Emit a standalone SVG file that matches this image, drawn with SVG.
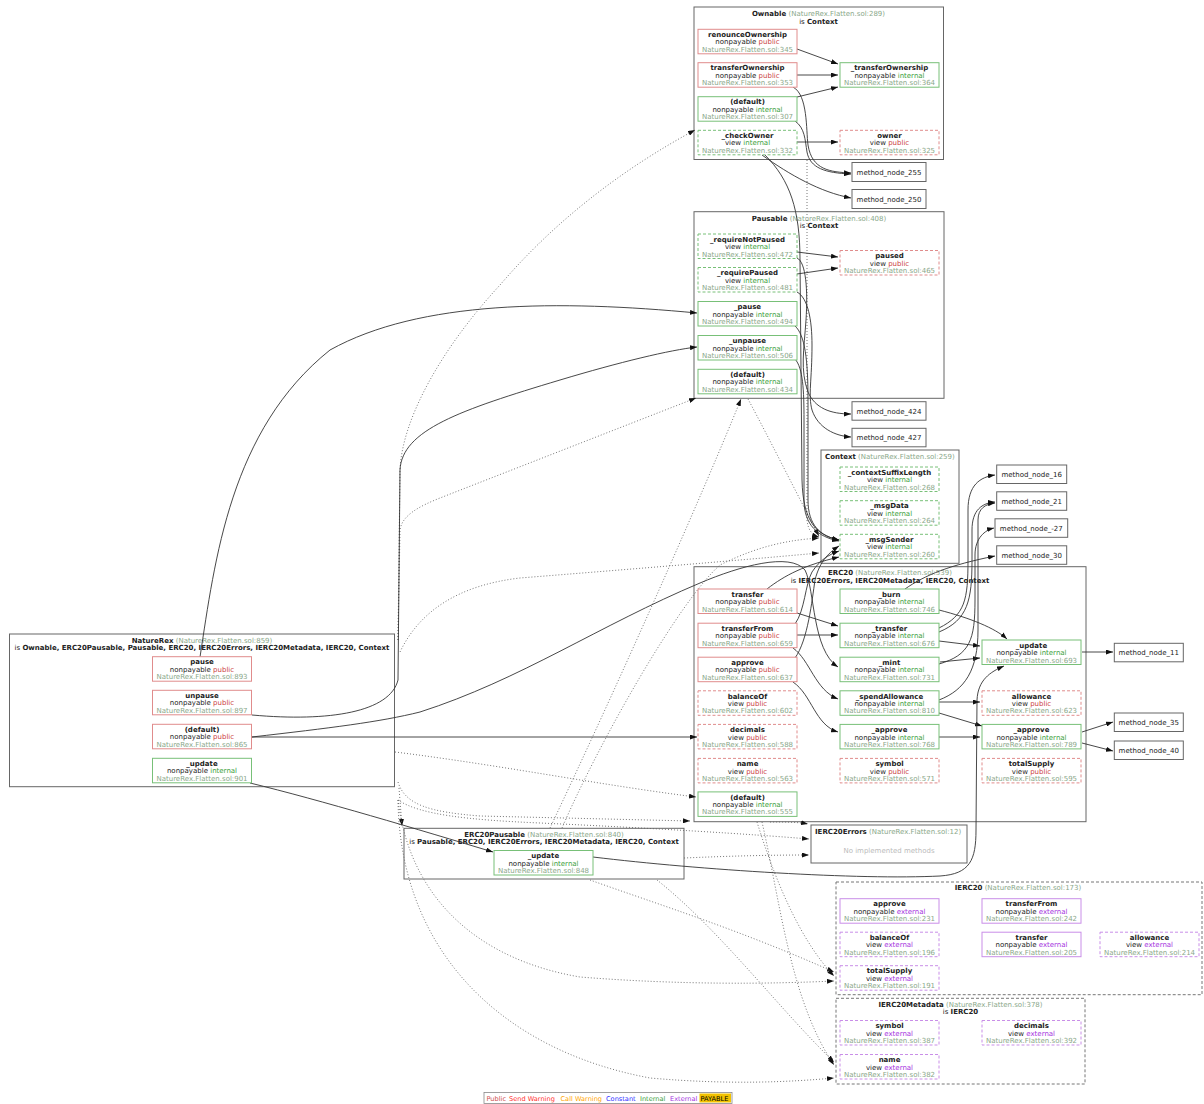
<svg xmlns="http://www.w3.org/2000/svg" width="1204" height="1104" viewBox="0 0 1204 1104">
<defs>
<marker id="ah" markerUnits="userSpaceOnUse" markerWidth="7" markerHeight="5" refX="7" refY="2.5" orient="auto"><path d="M0,0 L7,2.5 L0,5 z" fill="#111"/></marker>
<style>
text{font-family:"DejaVu Sans","Liberation Sans",sans-serif;font-size:7px;fill:#222;text-anchor:middle}
.b{font-weight:bold}
.src{fill:#8aa88a}
.pt{fill:#cc4444}
.it{fill:#3aa03a}
.et{fill:#a533e0}
.cl{fill:#fff;stroke:#666;stroke-width:1}
.cld{fill:#fff;stroke:#777;stroke-width:1;stroke-dasharray:3,2}
.pubS{fill:#fff;stroke:#e08c8c;stroke-width:1}
.pubD{fill:#fff;stroke:#e08c8c;stroke-width:1;stroke-dasharray:3,2}
.intS{fill:#fff;stroke:#78c078;stroke-width:1}
.intD{fill:#fff;stroke:#78c078;stroke-width:1;stroke-dasharray:3,2}
.extS{fill:#fff;stroke:#c98ee8;stroke-width:1}
.extD{fill:#fff;stroke:#c98ee8;stroke-width:1;stroke-dasharray:3,2}
.mn{fill:#fff;stroke:#666;stroke-width:1}
.e{fill:none;stroke:#333;stroke-width:0.9;marker-end:url(#ah)}
.d{fill:none;stroke:#666;stroke-width:0.9;stroke-dasharray:1,2;marker-end:url(#ah)}
.l{text-anchor:start}
</style>
</defs>
<rect width="1204" height="1104" fill="#fff"/>

<!-- clusters -->
<g id="cluster_Ownable"><rect class="cl" x="694" y="7" width="249.5" height="152.5"/><text x="818.5" y="16"><tspan class="b">Ownable</tspan><tspan class="src"> (NatureRex.Flatten.sol:289)</tspan></text><text x="818.5" y="23.5">is <tspan class="b">Context</tspan></text></g>
<g id="cluster_Pausable"><rect class="cl" x="694" y="211.7" width="250" height="186.6"/><text x="819" y="220.6"><tspan class="b">Pausable</tspan><tspan class="src"> (NatureRex.Flatten.sol:408)</tspan></text><text x="819" y="228">is <tspan class="b">Context</tspan></text></g>
<g id="cluster_Context"><rect class="cl" x="821" y="450" width="138" height="113.3"/><text class="l" x="825" y="458.6"><tspan class="b">Context</tspan><tspan class="src"> (NatureRex.Flatten.sol:259)</tspan></text></g>
<g id="cluster_ERC20"><rect class="cl" x="694" y="566.7" width="392" height="255"/><text x="890" y="575"><tspan class="b">ERC20</tspan><tspan class="src"> (NatureRex.Flatten.sol:539)</tspan></text><text x="890" y="582.5">is <tspan class="b">IERC20Errors, IERC20Metadata, IERC20, Context</tspan></text></g>
<g id="cluster_NatureRex"><rect class="cl" x="9.5" y="634" width="385" height="152.7"/><text x="202" y="642.6"><tspan class="b">NatureRex</tspan><tspan class="src"> (NatureRex.Flatten.sol:859)</tspan></text><text x="202" y="650">is <tspan class="b">Ownable, ERC20Pausable, Pausable, ERC20, IERC20Errors, IERC20Metadata, IERC20, Context</tspan></text></g>
<g id="cluster_ERC20Pausable"><rect class="cl" x="404" y="828.3" width="280" height="50.7"/><text x="544" y="836.6"><tspan class="b">ERC20Pausable</tspan><tspan class="src"> (NatureRex.Flatten.sol:840)</tspan></text><text x="544" y="844">is <tspan class="b">Pausable, ERC20, IERC20Errors, IERC20Metadata, IERC20, Context</tspan></text></g>
<g id="cluster_IERC20Errors"><rect class="cl" x="811" y="825" width="156" height="38"/><text class="l" x="815" y="833.5"><tspan class="b">IERC20Errors</tspan><tspan class="src"> (NatureRex.Flatten.sol:12)</tspan></text><text x="889" y="852.5" style="fill:#bbb">No implemented methods</text></g>
<g id="cluster_IERC20"><rect class="cld" x="836" y="882" width="366" height="112.7"/><text x="1018" y="890"><tspan class="b">IERC20</tspan><tspan class="src"> (NatureRex.Flatten.sol:173)</tspan></text></g>
<g id="cluster_IERC20Metadata"><rect class="cld" x="836" y="998.3" width="249" height="85.7"/><text x="960.5" y="1006.5"><tspan class="b">IERC20Metadata</tspan><tspan class="src"> (NatureRex.Flatten.sol:378)</tspan></text><text x="960.5" y="1014">is <tspan class="b">IERC20</tspan></text></g>

<!-- connectors -->
<g id="connectors">
<!-- dotted inheritance -->
<path class="d" d="M398,640 L400,470 C402,420 440,350 500,285 C560,215 630,165 695,130"/>
<path class="d" d="M398,640 L400,530 C402,515 420,506 440,498 L696,398"/>
<path class="d" d="M399,788 L402,826"/>
<path class="d" d="M395,752 C500,765 600,785 696,797"/>
<path class="d" d="M398,782 C405,805 430,812 480,816 L690,821"/>
<path class="d" d="M400,652 C420,610 460,585 520,578 C620,570 720,562 819,553"/>
<path class="d" d="M562,828 C600,740 680,600 720,565 C760,545 790,540 819,538"/>
<path class="d" d="M550,828 C620,680 700,500 741,399"/>
<path class="d" d="M807,160 L807,520 C808,530 812,535 819,537"/>
<path class="d" d="M748,399 C770,440 800,500 819,536"/>
<path class="d" d="M398,800 C420,815 470,820 540,823 C650,828 750,834 809,839"/>
<path class="d" d="M684,858 C730,856 770,855 809,855"/>
<path class="d" d="M770,822 C785,822 798,822 808,824"/>
<path class="d" d="M590,880 C660,905 740,930 834,972"/>
<path class="d" d="M398,800 C410,900 480,960 580,977 C680,985 770,984 834,981"/>
<path class="d" d="M757,822 C775,880 800,940 834,976"/>
<path class="d" d="M657,880 C720,930 780,1010 834,1062"/>
<path class="d" d="M762,822 C780,900 790,1000 834,1065"/>
<path class="d" d="M398,800 C400,950 500,1050 650,1078 C730,1085 790,1082 834,1078"/>
<!-- solid calls -->
<path class="e" d="M797,49 L838,64"/>
<path class="e" d="M797,75 L838,75"/>
<path class="e" d="M797,97 L838,87"/>
<path class="e" d="M793,87 C808,95 806,130 808,145 C812,170 830,172 851,173"/>
<path class="e" d="M795,121 C805,128 805,140 807,152 C810,168 825,173 851,174"/>
<path class="e" d="M797,142 L838,142"/>
<path class="e" d="M762,155 C790,175 820,192 851,198"/>
<path class="e" d="M765,155 C790,180 800,210 800,260 L802,480 C803,520 815,535 839,540"/>
<path class="e" d="M797,252 L838,257"/>
<path class="e" d="M797,274 L838,268"/>
<path class="e" d="M797,258 C806,262 808,290 806,320 C804,350 800,370 808,392 C815,408 830,414 851,414"/>
<path class="e" d="M797,292 C808,298 812,320 812,345 C812,380 808,395 812,410 C818,428 835,436 851,437"/>
<path class="e" d="M795,326 C805,335 808,360 808,400 L808,500 C808,525 820,536 839,540"/>
<path class="e" d="M795,359 C803,368 804,390 804,420 L804,500 C804,525 818,537 839,541"/>
<path class="e" d="M200,657 C215,560 230,430 330,350 C420,300 560,300 697,313"/>
<path class="e" d="M252,715 C330,722 390,712 398,680 L400,470 C402,430 460,410 560,380 C620,362 670,350 697,347"/>
<path class="e" d="M252,737 L697,737"/>
<path class="e" d="M252,737 C330,728 380,722 420,712 C520,680 600,625 700,583 C740,566 790,552 805,570 C815,590 812,650 838,667"/>
<path class="e" d="M250,783 C320,800 420,830 493,852"/>
<path class="e" d="M767,589 C785,575 805,565 839,557"/>
<path class="e" d="M795,624 C805,610 805,585 812,572 C820,560 828,555 839,551"/>
<path class="e" d="M795,658 C808,640 812,600 815,580 C820,560 830,552 839,546"/>
<path class="e" d="M797,613 L838,626"/>
<path class="e" d="M797,635 L838,635"/>
<path class="e" d="M793,648 C810,660 815,690 838,699"/>
<path class="e" d="M793,682 C812,695 815,725 838,732"/>
<path class="e" d="M939,610 C970,618 995,628 1007,639"/>
<path class="e" d="M939,641 L980,646"/>
<path class="e" d="M940,662 L980,658"/>
<path class="e" d="M939,702 L980,702"/>
<path class="e" d="M939,713 L982,726"/>
<path class="e" d="M939,737 L980,737"/>
<path class="e" d="M1082,652 L1113,652"/>
<path class="e" d="M1082,732 L1113,722"/>
<path class="e" d="M1082,743 L1113,751"/>
<path class="e" d="M593,857 C700,870 860,880 940,876 C970,874 976,860 976,830 L977,700 C978,680 990,672 1004,666"/>
<path class="e" d="M905,589 C925,575 950,565 995,556"/>
<path class="e" d="M939,628 C965,615 968,600 968,560 L968,510 C968,485 980,477 995,475"/>
<path class="e" d="M939,632 C968,620 972,600 972,560 L972,530 C972,510 982,503 995,502"/>
<path class="e" d="M939,664 C970,655 975,640 975,600 L975,555 C975,538 985,530 994,528"/>
<path class="e" d="M939,700 C965,690 978,670 978,630 L978,520 C978,508 986,504 995,503"/>
</g>

<!-- Ownable nodes -->
<g id="o_renounceOwnership"><rect class="pubS" x="698" y="29.3" width="99" height="24.5"/><text class="b" x="747.5" y="37">renounceOwnership</text><text x="747.5" y="44.4">nonpayable <tspan class="pt">public</tspan></text><text class="src" x="747.5" y="51.8">NatureRex.Flatten.sol:345</text></g>
<g id="o_transferOwnership"><rect class="pubS" x="698" y="62.7" width="99" height="24.5"/><text class="b" x="747.5" y="70.4">transferOwnership</text><text x="747.5" y="77.8">nonpayable <tspan class="pt">public</tspan></text><text class="src" x="747.5" y="85.2">NatureRex.Flatten.sol:353</text></g>
<g id="o_default"><rect class="intS" x="698" y="96.7" width="99" height="24.5"/><text class="b" x="747.5" y="104.4">(default)</text><text x="747.5" y="111.8">nonpayable <tspan class="it">internal</tspan></text><text class="src" x="747.5" y="119.2">NatureRex.Flatten.sol:307</text></g>
<g id="o_checkOwner"><rect class="intD" x="698" y="130.3" width="99" height="24.5"/><text class="b" x="747.5" y="138">_checkOwner</text><text x="747.5" y="145.4">view <tspan class="it">internal</tspan></text><text class="src" x="747.5" y="152.8">NatureRex.Flatten.sol:332</text></g>
<g id="o__transferOwnership"><rect class="intS" x="840" y="62.7" width="99" height="24.5"/><text class="b" x="889.5" y="70.4">_transferOwnership</text><text x="889.5" y="77.8">nonpayable <tspan class="it">internal</tspan></text><text class="src" x="889.5" y="85.2">NatureRex.Flatten.sol:364</text></g>
<g id="o_owner"><rect class="pubD" x="840" y="130.3" width="99" height="24.5"/><text class="b" x="889.5" y="138">owner</text><text x="889.5" y="145.4">view <tspan class="pt">public</tspan></text><text class="src" x="889.5" y="152.8">NatureRex.Flatten.sol:325</text></g>

<!-- Pausable nodes -->
<g id="p_requireNotPaused"><rect class="intD" x="698" y="234" width="99" height="24.5"/><text class="b" x="747.5" y="241.7">_requireNotPaused</text><text x="747.5" y="249.1">view <tspan class="it">internal</tspan></text><text class="src" x="747.5" y="256.5">NatureRex.Flatten.sol:472</text></g>
<g id="p_requirePaused"><rect class="intD" x="698" y="267.5" width="99" height="24.5"/><text class="b" x="747.5" y="275.2">_requirePaused</text><text x="747.5" y="282.6">view <tspan class="it">internal</tspan></text><text class="src" x="747.5" y="290">NatureRex.Flatten.sol:481</text></g>
<g id="p_pause"><rect class="intS" x="698" y="301.5" width="99" height="24.5"/><text class="b" x="747.5" y="309.2">_pause</text><text x="747.5" y="316.6">nonpayable <tspan class="it">internal</tspan></text><text class="src" x="747.5" y="324">NatureRex.Flatten.sol:494</text></g>
<g id="p_unpause"><rect class="intS" x="698" y="335.5" width="99" height="24.5"/><text class="b" x="747.5" y="343.2">_unpause</text><text x="747.5" y="350.6">nonpayable <tspan class="it">internal</tspan></text><text class="src" x="747.5" y="358">NatureRex.Flatten.sol:506</text></g>
<g id="p_default"><rect class="intS" x="698" y="369.3" width="99" height="24.5"/><text class="b" x="747.5" y="377">(default)</text><text x="747.5" y="384.4">nonpayable <tspan class="it">internal</tspan></text><text class="src" x="747.5" y="391.8">NatureRex.Flatten.sol:434</text></g>
<g id="p_paused"><rect class="pubD" x="840" y="250.5" width="99" height="24.5"/><text class="b" x="889.5" y="258.2">paused</text><text x="889.5" y="265.6">view <tspan class="pt">public</tspan></text><text class="src" x="889.5" y="273">NatureRex.Flatten.sol:465</text></g>

<!-- Context nodes -->
<g id="c_contextSuffixLength"><rect class="intD" x="840" y="467" width="99" height="24.5"/><text class="b" x="889.5" y="474.7">_contextSuffixLength</text><text x="889.5" y="482.1">view <tspan class="it">internal</tspan></text><text class="src" x="889.5" y="489.5">NatureRex.Flatten.sol:268</text></g>
<g id="c_msgData"><rect class="intD" x="840" y="500.7" width="99" height="24.5"/><text class="b" x="889.5" y="508.4">_msgData</text><text x="889.5" y="515.8">view <tspan class="it">internal</tspan></text><text class="src" x="889.5" y="523.2">NatureRex.Flatten.sol:264</text></g>
<g id="c_msgSender"><rect class="intD" x="840" y="534.3" width="99" height="24.5"/><text class="b" x="889.5" y="542">_msgSender</text><text x="889.5" y="549.4">view <tspan class="it">internal</tspan></text><text class="src" x="889.5" y="556.8">NatureRex.Flatten.sol:260</text></g>

<!-- ERC20 nodes -->
<g id="e_transfer"><rect class="pubS" x="698" y="589" width="99" height="24.5"/><text class="b" x="747.5" y="596.7">transfer</text><text x="747.5" y="604.1">nonpayable <tspan class="pt">public</tspan></text><text class="src" x="747.5" y="611.5">NatureRex.Flatten.sol:614</text></g>
<g id="e_transferFrom"><rect class="pubS" x="698" y="623.2" width="99" height="24.5"/><text class="b" x="747.5" y="630.9">transferFrom</text><text x="747.5" y="638.3">nonpayable <tspan class="pt">public</tspan></text><text class="src" x="747.5" y="645.7">NatureRex.Flatten.sol:659</text></g>
<g id="e_approve"><rect class="pubS" x="698" y="657.2" width="99" height="24.5"/><text class="b" x="747.5" y="664.9">approve</text><text x="747.5" y="672.3">nonpayable <tspan class="pt">public</tspan></text><text class="src" x="747.5" y="679.7">NatureRex.Flatten.sol:637</text></g>
<g id="e_balanceOf"><rect class="pubD" x="698" y="690.8" width="99" height="24.5"/><text class="b" x="747.5" y="698.5">balanceOf</text><text x="747.5" y="705.9">view <tspan class="pt">public</tspan></text><text class="src" x="747.5" y="713.3">NatureRex.Flatten.sol:602</text></g>
<g id="e_decimals"><rect class="pubD" x="698" y="724.4" width="99" height="24.5"/><text class="b" x="747.5" y="732.1">decimals</text><text x="747.5" y="739.5">view <tspan class="pt">public</tspan></text><text class="src" x="747.5" y="746.9">NatureRex.Flatten.sol:588</text></g>
<g id="e_name"><rect class="pubD" x="698" y="758.4" width="99" height="24.5"/><text class="b" x="747.5" y="766.1">name</text><text x="747.5" y="773.5">view <tspan class="pt">public</tspan></text><text class="src" x="747.5" y="780.9">NatureRex.Flatten.sol:563</text></g>
<g id="e_default"><rect class="intS" x="698" y="791.9" width="99" height="24.5"/><text class="b" x="747.5" y="799.6">(default)</text><text x="747.5" y="807">nonpayable <tspan class="it">internal</tspan></text><text class="src" x="747.5" y="814.4">NatureRex.Flatten.sol:555</text></g>
<g id="e_burn"><rect class="intS" x="840" y="589" width="99" height="24.5"/><text class="b" x="889.5" y="596.7">_burn</text><text x="889.5" y="604.1">nonpayable <tspan class="it">internal</tspan></text><text class="src" x="889.5" y="611.5">NatureRex.Flatten.sol:746</text></g>
<g id="e__transfer"><rect class="intS" x="840" y="623.2" width="99" height="24.5"/><text class="b" x="889.5" y="630.9">_transfer</text><text x="889.5" y="638.3">nonpayable <tspan class="it">internal</tspan></text><text class="src" x="889.5" y="645.7">NatureRex.Flatten.sol:676</text></g>
<g id="e_mint"><rect class="intS" x="840" y="657.2" width="99" height="24.5"/><text class="b" x="889.5" y="664.9">_mint</text><text x="889.5" y="672.3">nonpayable <tspan class="it">internal</tspan></text><text class="src" x="889.5" y="679.7">NatureRex.Flatten.sol:731</text></g>
<g id="e_spendAllowance"><rect class="intS" x="840" y="690.8" width="99" height="24.5"/><text class="b" x="889.5" y="698.5">_spendAllowance</text><text x="889.5" y="705.9">nonpayable <tspan class="it">internal</tspan></text><text class="src" x="889.5" y="713.3">NatureRex.Flatten.sol:810</text></g>
<g id="e__approve768"><rect class="intS" x="840" y="724.4" width="99" height="24.5"/><text class="b" x="889.5" y="732.1">_approve</text><text x="889.5" y="739.5">nonpayable <tspan class="it">internal</tspan></text><text class="src" x="889.5" y="746.9">NatureRex.Flatten.sol:768</text></g>
<g id="e_symbol"><rect class="pubD" x="840" y="758.4" width="99" height="24.5"/><text class="b" x="889.5" y="766.1">symbol</text><text x="889.5" y="773.5">view <tspan class="pt">public</tspan></text><text class="src" x="889.5" y="780.9">NatureRex.Flatten.sol:571</text></g>
<g id="e_update"><rect class="intS" x="982" y="640" width="99" height="24.5"/><text class="b" x="1031.5" y="647.7">_update</text><text x="1031.5" y="655.1">nonpayable <tspan class="it">internal</tspan></text><text class="src" x="1031.5" y="662.5">NatureRex.Flatten.sol:693</text></g>
<g id="e_allowance"><rect class="pubD" x="982" y="690.8" width="99" height="24.5"/><text class="b" x="1031.5" y="698.5">allowance</text><text x="1031.5" y="705.9">view <tspan class="pt">public</tspan></text><text class="src" x="1031.5" y="713.3">NatureRex.Flatten.sol:623</text></g>
<g id="e__approve789"><rect class="intS" x="982" y="724.4" width="99" height="24.5"/><text class="b" x="1031.5" y="732.1">_approve</text><text x="1031.5" y="739.5">nonpayable <tspan class="it">internal</tspan></text><text class="src" x="1031.5" y="746.9">NatureRex.Flatten.sol:789</text></g>
<g id="e_totalSupply"><rect class="pubD" x="982" y="758.4" width="99" height="24.5"/><text class="b" x="1031.5" y="766.1">totalSupply</text><text x="1031.5" y="773.5">view <tspan class="pt">public</tspan></text><text class="src" x="1031.5" y="780.9">NatureRex.Flatten.sol:595</text></g>

<!-- NatureRex nodes -->
<g id="n_pause"><rect class="pubS" x="152.5" y="656.7" width="99" height="24.5"/><text class="b" x="202" y="664.4">pause</text><text x="202" y="671.8">nonpayable <tspan class="pt">public</tspan></text><text class="src" x="202" y="679.2">NatureRex.Flatten.sol:893</text></g>
<g id="n_unpause"><rect class="pubS" x="152.5" y="690.3" width="99" height="24.5"/><text class="b" x="202" y="698">unpause</text><text x="202" y="705.4">nonpayable <tspan class="pt">public</tspan></text><text class="src" x="202" y="712.8">NatureRex.Flatten.sol:897</text></g>
<g id="n_default"><rect class="pubS" x="152.5" y="724.3" width="99" height="24.5"/><text class="b" x="202" y="732">(default)</text><text x="202" y="739.4">nonpayable <tspan class="pt">public</tspan></text><text class="src" x="202" y="746.8">NatureRex.Flatten.sol:865</text></g>
<g id="n_update"><rect class="intS" x="152.5" y="758.3" width="99" height="24.5"/><text class="b" x="202" y="766">_update</text><text x="202" y="773.4">nonpayable <tspan class="it">internal</tspan></text><text class="src" x="202" y="780.8">NatureRex.Flatten.sol:901</text></g>

<!-- ERC20Pausable node -->
<g id="ep_update"><rect class="intS" x="494" y="850.5" width="99" height="24.5"/><text class="b" x="543.5" y="858.2">_update</text><text x="543.5" y="865.6">nonpayable <tspan class="it">internal</tspan></text><text class="src" x="543.5" y="873">NatureRex.Flatten.sol:848</text></g>

<!-- IERC20 nodes -->
<g id="i_approve"><rect class="extS" x="840" y="898.7" width="99" height="24.5"/><text class="b" x="889.5" y="906.4">approve</text><text x="889.5" y="913.8">nonpayable <tspan class="et">external</tspan></text><text class="src" x="889.5" y="921.2">NatureRex.Flatten.sol:231</text></g>
<g id="i_transferFrom"><rect class="extS" x="982" y="898.7" width="99" height="24.5"/><text class="b" x="1031.5" y="906.4">transferFrom</text><text x="1031.5" y="913.8">nonpayable <tspan class="et">external</tspan></text><text class="src" x="1031.5" y="921.2">NatureRex.Flatten.sol:242</text></g>
<g id="i_balanceOf"><rect class="extD" x="840" y="932.2" width="99" height="24.5"/><text class="b" x="889.5" y="939.9">balanceOf</text><text x="889.5" y="947.3">view <tspan class="et">external</tspan></text><text class="src" x="889.5" y="954.7">NatureRex.Flatten.sol:196</text></g>
<g id="i_transfer"><rect class="extS" x="982" y="932.2" width="99" height="24.5"/><text class="b" x="1031.5" y="939.9">transfer</text><text x="1031.5" y="947.3">nonpayable <tspan class="et">external</tspan></text><text class="src" x="1031.5" y="954.7">NatureRex.Flatten.sol:205</text></g>
<g id="i_allowance"><rect class="extD" x="1100" y="932.2" width="99" height="24.5"/><text class="b" x="1149.5" y="939.9">allowance</text><text x="1149.5" y="947.3">view <tspan class="et">external</tspan></text><text class="src" x="1149.5" y="954.7">NatureRex.Flatten.sol:214</text></g>
<g id="i_totalSupply"><rect class="extD" x="840" y="965.7" width="99" height="24.5"/><text class="b" x="889.5" y="973.4">totalSupply</text><text x="889.5" y="980.8">view <tspan class="et">external</tspan></text><text class="src" x="889.5" y="988.2">NatureRex.Flatten.sol:191</text></g>

<!-- IERC20Metadata nodes -->
<g id="im_symbol"><rect class="extD" x="840" y="1020.5" width="99" height="24.5"/><text class="b" x="889.5" y="1028.2">symbol</text><text x="889.5" y="1035.6">view <tspan class="et">external</tspan></text><text class="src" x="889.5" y="1043">NatureRex.Flatten.sol:387</text></g>
<g id="im_decimals"><rect class="extD" x="982" y="1020.5" width="99" height="24.5"/><text class="b" x="1031.5" y="1028.2">decimals</text><text x="1031.5" y="1035.6">view <tspan class="et">external</tspan></text><text class="src" x="1031.5" y="1043">NatureRex.Flatten.sol:392</text></g>
<g id="im_name"><rect class="extD" x="840" y="1054.5" width="99" height="24.5"/><text class="b" x="889.5" y="1062.2">name</text><text x="889.5" y="1069.6">view <tspan class="et">external</tspan></text><text class="src" x="889.5" y="1077">NatureRex.Flatten.sol:382</text></g>

<!-- method nodes -->
<g id="method_node_255"><rect class="mn" x="852" y="162.5" width="74" height="19"/><text x="889" y="174.5">method_node_255</text></g>
<g id="method_node_250"><rect class="mn" x="852" y="189.5" width="74" height="19"/><text x="889" y="201.5">method_node_250</text></g>
<g id="method_node_424"><rect class="mn" x="852" y="401.7" width="74" height="18.5"/><text x="889" y="413.5">method_node_424</text></g>
<g id="method_node_427"><rect class="mn" x="852" y="428.3" width="74" height="18.5"/><text x="889" y="440.1">method_node_427</text></g>
<g id="method_node_16"><rect class="mn" x="996.7" y="465" width="70" height="18.5"/><text x="1031.7" y="476.8">method_node_16</text></g>
<g id="method_node_21"><rect class="mn" x="996.7" y="491.8" width="70" height="18.5"/><text x="1031.7" y="503.6">method_node_21</text></g>
<g id="method_node_-27"><rect class="mn" x="995" y="518.8" width="72.7" height="18.5"/><text x="1031.3" y="530.6">method_node_-27</text></g>
<g id="method_node_30"><rect class="mn" x="996.7" y="545.8" width="70" height="18.5"/><text x="1031.7" y="557.6">method_node_30</text></g>
<g id="method_node_11"><rect class="mn" x="1114.3" y="643.3" width="69" height="18.5"/><text x="1148.8" y="655.1">method_node_11</text></g>
<g id="method_node_35"><rect class="mn" x="1114.3" y="713" width="69" height="18.5"/><text x="1148.8" y="724.8">method_node_35</text></g>
<g id="method_node_40"><rect class="mn" x="1114.3" y="741" width="69" height="18.5"/><text x="1148.8" y="752.8">method_node_40</text></g>

<!-- legend -->
<g id="legend">
<rect x="484" y="1092.5" width="248" height="11" fill="#fff" stroke="#888" stroke-width="0.8"/>
<rect x="699.5" y="1093.5" width="31.5" height="9" fill="#f2c200"/>
<text class="l" x="486.5" y="1100.8" style="fill:#d05050;font-size:6.6px">Public</text>
<text class="l" x="509" y="1100.8" style="fill:#ff3030;font-size:6.6px">Send Warning</text>
<text class="l" x="560.5" y="1100.8" style="fill:#ffa500;font-size:6.6px">Call Warning</text>
<text class="l" x="606" y="1100.8" style="fill:#3030ff;font-size:6.6px">Constant</text>
<text class="l" x="640" y="1100.8" style="fill:#3aa03a;font-size:6.6px">Internal</text>
<text class="l" x="670" y="1100.8" style="fill:#a533e0;font-size:6.6px">External</text>
<text class="l" x="700.5" y="1100.8" style="fill:#000;font-size:6.6px">PAYABLE</text>
</g>
</svg>
